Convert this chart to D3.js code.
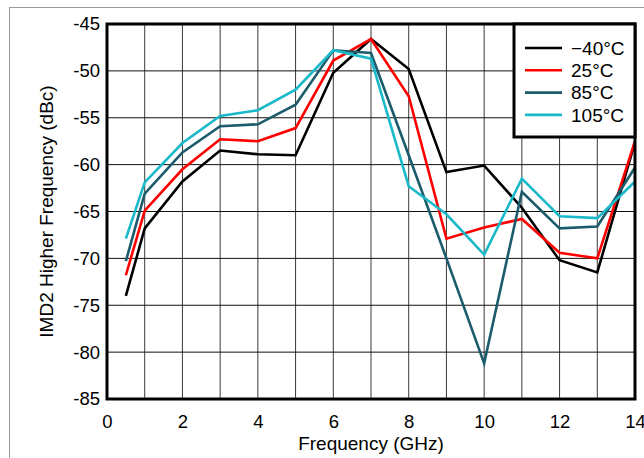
<!DOCTYPE html>
<html>
<head>
<meta charset="utf-8">
<script src="https://cdn.jsdelivr.net/npm/d3@7"></script>
<style>
  body { margin: 0; background: #fff; }
  svg { font-family: "Liberation Sans", Arial, sans-serif; }
</style>
</head>
<body>
<div id="chart"></div>
<script>
// data
var freq = [0.5, 1, 2, 3, 4, 5, 6, 7, 8, 9, 10, 11, 12, 13, 14];
var m40 = [-74.0, -66.8, -61.8, -58.5, -58.9, -59.0, -50.2, -46.6, -49.8, -60.8, -60.1, -64.6, -70.2, -71.5, -57.6];
var t25 = [-71.8, -64.9, -60.5, -57.3, -57.5, -56.1, -48.9, -46.6, -52.7, -67.9, -66.7, -65.8, -69.4, -70.0, -57.5];
var t85 = [-70.3, -63.1, -58.7, -55.9, -55.7, -53.6, -47.8, -48.1, -59.0, -70.0, -81.2, -62.9, -66.8, -66.6, -60.3];
var t105 = [-67.9, -61.9, -57.7, -54.8, -54.2, -52.0, -47.8, -48.7, -62.3, -65.3, -69.6, -61.5, -65.5, -65.7, -61.8];
var seriesNames = ["\u221240\u00b0C", "25\u00b0C", "85\u00b0C", "105\u00b0C"];
var seriesColors = ["#000000", "#ff0000", "#1b5b6b", "#19b9c9"];
var xTicks = [0, 2, 4, 6, 8, 10, 12, 14];
var yTicks = [-85, -80, -75, -70, -65, -60, -55, -50, -45];

var svgWidth = 644;
var svgHeight = 458;
var margin = { top: 24, right: 9, bottom: 59, left: 107 };
var width = svgWidth - margin.left - margin.right;
var height = svgHeight - margin.top - margin.bottom;

var svg = d3.select("#chart")
    .append("svg")
    .attr("width", svgWidth)
    .attr("height", svgHeight);

// outer frame
svg.append("rect")
    .attr("x", 9.5).attr("y", 7.5)
    .attr("width", 650).attr("height", 470)
    .attr("fill", "none")
    .attr("stroke", "#9a9a9a")
    .attr("stroke-width", 1);

var chartGroup = svg.append("g")
    .attr("transform", `translate(${margin.left}, ${margin.top})`);

var x = d3.scaleLinear().domain([0, 14]).range([0, width]);
var y = d3.scaleLinear().domain([-85, -45]).range([height, 0]);

// grid
chartGroup.append("g")
    .selectAll("line")
    .data(d3.range(1, 14))
    .enter()
    .append("line")
    .attr("x1", d => x(d)).attr("x2", d => x(d))
    .attr("y1", 0).attr("y2", height)
    .attr("stroke", "#3a3a3a")
    .attr("stroke-width", 1);

chartGroup.append("g")
    .selectAll("line")
    .data(yTicks.slice(1, -1))
    .enter()
    .append("line")
    .attr("x1", 0).attr("x2", width)
    .attr("y1", d => y(d)).attr("y2", d => y(d))
    .attr("stroke", "#111")
    .attr("stroke-width", 1);

// axes (labels only, border drawn as a box)
var bottomAxis = d3.axisBottom(x).tickValues(xTicks).tickSize(0).tickPadding(16)
    .tickFormat(d => String(d));
var leftAxis = d3.axisLeft(y).tickValues(yTicks).tickSize(0).tickPadding(7)
    .tickFormat(d => String(d));

var gx = chartGroup.append("g")
    .attr("transform", `translate(0, ${height})`)
    .call(bottomAxis);
var gy = chartGroup.append("g").call(leftAxis);
[gx, gy].forEach(function(g) {
    g.select(".domain").remove();
    g.selectAll("text")
        .attr("font-size", "18.5px")
        .attr("font-family", "Liberation Sans, Arial, sans-serif")
        .attr("fill", "#000");
});

// series
var allSeries = [m40, t25, t85, t105];
var line = d3.line()
    .x((d, i) => x(freq[i]))
    .y(d => y(d));

allSeries.forEach(function(vals, k) {
    chartGroup.append("path")
        .datum(vals)
        .attr("d", line)
        .attr("fill", "none")
        .attr("stroke", seriesColors[k])
        .attr("stroke-width", 2.6)
        .attr("stroke-linejoin", "miter");
});

// plot border
chartGroup.append("rect")
    .attr("x", 0).attr("y", 0)
    .attr("width", width).attr("height", height)
    .attr("fill", "none")
    .attr("stroke", "#000")
    .attr("stroke-width", 3);

// legend
var legend = chartGroup.append("g")
    .attr("transform", `translate(${width - 121}, 0)`);
legend.append("rect")
    .attr("x", 0).attr("y", 0)
    .attr("width", 121).attr("height", 113)
    .attr("fill", "#fff")
    .attr("stroke", "#000")
    .attr("stroke-width", 3);
seriesNames.forEach(function(name, k) {
    var ly = 24 + k * 22.3;
    legend.append("line")
        .attr("x1", 11).attr("x2", 48)
        .attr("y1", ly).attr("y2", ly)
        .attr("stroke", seriesColors[k])
        .attr("stroke-width", 2.6);
    legend.append("text")
        .attr("x", 57).attr("y", ly)
        .attr("dy", "0.36em")
        .attr("font-size", "19px")
        .text(name);
});

// axis titles
chartGroup.append("text")
    .attr("transform", "rotate(-90)")
    .attr("x", -height / 2)
    .attr("y", -margin.left + 53)
    .attr("text-anchor", "middle")
    .attr("font-size", "19px")
    .text("IMD2 Higher Frequency (dBc)");

chartGroup.append("text")
    .attr("x", width / 2)
    .attr("y", height + 51)
    .attr("text-anchor", "middle")
    .attr("font-size", "19px")
    .text("Frequency (GHz)");
</script>
</body>
</html>
